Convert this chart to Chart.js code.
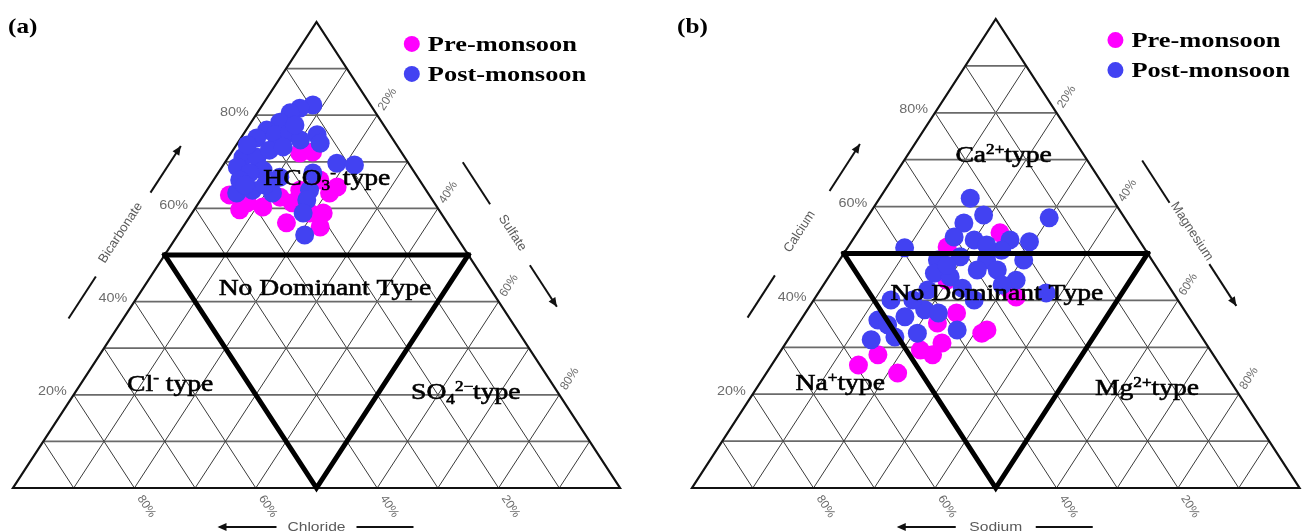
<!DOCTYPE html>
<html>
<head>
<meta charset="utf-8">
<script src="https://cdn.jsdelivr.net/npm/chart.js@4/dist/chart.umd.min.js"></script>
<style>
  html, body { margin: 0; padding: 0; background: #fff; }
  #wrap { position: relative; width: 1309px; height: 532px; overflow: hidden; }
  canvas { position: absolute; top: 0; }
  #chartA { left: 0; }
  #chartB { left: 654px; }
</style>
</head>
<body>
<div id="wrap">
  <canvas id="chartA" width="654" height="532"></canvas>
  <canvas id="chartB" width="655" height="532"></canvas>
</div>
<script>
// ---- Data -------------------------------------------------------------
const seasons = ['Pre-monsoon', 'Post-monsoon'];
const seasonColors = ['#ff00ff', '#4242f2'];
const tickPercents = [20, 40, 60, 80];

// Anion composition, % of total meq/L: [HCO3-, SO4 2-, Cl-]
const anionPre = [
  [71.9, 11.3, 16.8], [72.1, 13.3, 14.6], [62.9, 4.2, 32.9], [61.2, 8.0, 30.8],
  [60.3, 11.0, 28.7], [62.4, 12.8, 24.8], [61.2, 15.4, 23.4], [63.3, 20.5, 16.2],
  [64.6, 21.1, 14.3], [56.9, 16.6, 26.5], [56.0, 22.6, 21.4], [59.0, 21.6, 19.4],
  [59.0, 19.4, 21.6], [59.7, 7.5, 32.8], [66.1, 17.5, 16.4], [63.9, 15.3, 20.8]
];
const anionPost = [
  [82.2, 8.3, 9.5], [81.5, 6.5, 12.0], [80.5, 5.4, 14.1], [78.5, 4.7, 16.8],
  [75.8, 12.2, 12.0], [76.8, 3.4, 19.8], [75.1, 2.6, 22.3], [75.8, 5.3, 18.9],
  [76.2, 7.5, 16.3], [74.7, 10.0, 15.3], [74.0, 13.6, 12.4], [71.0, 2.4, 26.6],
  [68.9, 2.5, 28.6], [71.0, 4.7, 24.3], [72.5, 6.0, 21.5], [73.2, 7.9, 18.9],
  [68.2, 7.1, 24.7], [67.6, 5.2, 27.2], [63.3, 5.2, 31.5], [63.9, 7.5, 28.6],
  [63.3, 11.1, 25.6], [66.7, 10.6, 22.7], [69.7, 18.5, 11.8], [69.3, 21.6, 9.1],
  [67.6, 15.6, 16.8], [63.9, 16.9, 19.2], [61.8, 17.5, 20.7], [59.0, 18.3, 22.7],
  [54.3, 20.9, 24.8], [66.1, 4.3, 29.6], [73.6, 1.8, 24.6], [65.0, 9.0, 26.0],
  [77.9, 7.5, 14.6], [65.0, 5.7, 29.3]
];

// Cation composition, % of total meq/L: [Ca2+, Mg2+, Na+]
const cationPre = [
  [54.4, 23.5, 22.1], [42.2, 31.2, 26.6], [44.3, 19.8, 35.9], [37.3, 24.9, 37.8],
  [33.7, 31.7, 34.6], [35.2, 22.8, 42.0], [29.4, 22.9, 47.7], [26.2, 14.3, 59.5],
  [24.5, 21.6, 53.9], [28.4, 16.4, 55.2], [33.0, 31.2, 35.8], [30.9, 25.7, 43.4],
  [28.4, 25.4, 46.2], [40.7, 33.0, 26.3], [51.4, 16.3, 32.3]
];
const cationPost = [
  [61.8, 14.9, 23.3], [57.6, 30.0, 12.4], [51.2, 9.4, 39.4], [56.5, 16.5, 27.0],
  [58.2, 18.9, 22.9], [53.5, 16.4, 30.1], [52.9, 20.0, 27.1], [52.9, 25.9, 21.2],
  [52.5, 29.3, 18.2], [48.6, 16.1, 35.3], [49.3, 19.5, 31.2], [48.6, 24.2, 27.2],
  [48.6, 30.3, 21.1], [45.8, 17.0, 37.2], [45.0, 20.0, 35.0], [46.5, 23.7, 29.8],
  [46.5, 27.0, 26.5], [44.3, 31.2, 24.5], [40.1, 26.4, 33.5], [41.6, 37.5, 20.9],
  [40.1, 12.7, 47.2], [35.8, 12.7, 51.5], [36.5, 16.8, 46.7], [38.0, 19.3, 42.7],
  [31.6, 13.7, 54.7], [32.2, 17.3, 50.5], [33.0, 20.6, 46.4], [33.7, 26.8, 39.5],
  [37.3, 21.9, 40.8], [50.7, 25.6, 23.7], [42.6, 23.2, 34.2], [47.5, 18.2, 34.3],
  [43.3, 29.4, 27.3], [42.2, 17.7, 40.1], [40.1, 16.3, 43.6], [51.8, 22.6, 25.6],
  [34.8, 14.8, 50.4]
];

// ---- Ternary helpers --------------------------------------------------
// [top, right, left] percentages -> cartesian position inside the unit box
function toXY(t) {
  return { x: t[1] / 100 + t[0] / 200, y: t[0] / 100 };
}

const SERIF = '"Liberation Serif", "Times New Roman", serif';
const SANS = '"Liberation Sans", Arial, sans-serif';
const SX = 1.2; // horizontal text stretch used by the figure

function stretchedText(ctx, text, x, y, align, sx) {
  const w = ctx.measureText(text).width * sx;
  const left = align === 'center' ? x - w / 2 : align === 'right' ? x - w : x;
  ctx.save();
  ctx.translate(left, y);
  ctx.scale(sx, 1);
  ctx.textAlign = 'left';
  ctx.fillText(text, 0, 0);
  ctx.restore();
}

// parts: [text, level] with level 0 normal, -1 subscript, 1 superscript
function richText(ctx, parts, cx, cy, size) {
  const small = size * 0.62;
  const widths = parts.map(p => {
    ctx.font = `${p[1] ? small : size}px ${SERIF}`;
    return ctx.measureText(p[0]).width;
  });
  const total = widths.reduce((a, b) => a + b, 0) * SX;
  let x = cx - total / 2;
  const base = cy + size * 0.32;
  ctx.textBaseline = 'alphabetic';
  parts.forEach((p, i) => {
    ctx.font = `${p[1] ? small : size}px ${SERIF}`;
    const dy = p[1] === -1 ? size * 0.2 : p[1] === 1 ? -size * 0.36 : 0;
    ctx.save();
    ctx.translate(x, base + dy);
    ctx.scale(SX, 1);
    ctx.fillText(p[0], 0, 0);
    ctx.lineWidth = 0.6;
    ctx.strokeText(p[0], 0, 0);
    ctx.restore();
    x += widths[i] * SX;
  });
}

function makeTernaryPlugin(cfg) {
  const P = (chart, top, right) => [
    chart.scales.x.getPixelForValue(right + top / 2),
    chart.scales.y.getPixelForValue(top)
  ];
  const stroke = (ctx, pts, w, c) => {
    ctx.beginPath();
    ctx.moveTo(pts[0][0], pts[0][1]);
    for (let i = 1; i < pts.length; i++) ctx.lineTo(pts[i][0], pts[i][1]);
    ctx.lineWidth = w;
    ctx.strokeStyle = c;
    ctx.stroke();
  };
  const arrowHead = (ctx, tip, dir, len, half) => {
    ctx.beginPath();
    ctx.moveTo(tip[0], tip[1]);
    ctx.lineTo(tip[0] - dir[0] * len - dir[1] * half, tip[1] - dir[1] * len + dir[0] * half);
    ctx.lineTo(tip[0] - dir[0] * len + dir[1] * half, tip[1] - dir[1] * len - dir[0] * half);
    ctx.closePath();
    ctx.fill();
  };
  const unit = (a, b) => {
    const dx = b[0] - a[0], dy = b[1] - a[1], l = Math.hypot(dx, dy);
    return [dx / l, dy / l, l];
  };

  return {
    id: 'ternary',
    beforeDatasetsDraw(chart) {
      const ctx = chart.ctx;
      ctx.save();
      // grid every 10 %
      for (let k = 1; k < 10; k++) {
        const f = k / 10;
        stroke(ctx, [P(chart, 0, f), P(chart, 1 - f, f)], 1, '#3a3a3a');
        stroke(ctx, [P(chart, 0, 1 - f), P(chart, 1 - f, 0)], 1, '#3a3a3a');
        stroke(ctx, [P(chart, f, 0), P(chart, f, 1 - f)], 1.8, '#6a6a6a');
      }
      // outline
      const A = P(chart, 0, 0), B = P(chart, 0, 1), C = P(chart, 1, 0);
      ctx.lineJoin = 'miter';
      ctx.beginPath();
      ctx.moveTo(A[0], A[1]); ctx.lineTo(B[0], B[1]); ctx.lineTo(C[0], C[1]); ctx.closePath();
      ctx.lineWidth = 2.2; ctx.strokeStyle = '#111'; ctx.stroke();

      const dL = unit(A, C), dR = unit(C, B);
      const angL = Math.atan2(dL[1], dL[0]), angR = Math.atan2(dR[1], dR[0]);

      // tick labels
      ctx.fillStyle = '#6b6b6b';
      ctx.font = `12px ${SANS}`;
      ctx.textBaseline = 'middle';
      tickPercents.forEach(v => {
        const f = v / 100;
        const pl = P(chart, f, 0);
        stretchedText(ctx, v + '%', pl[0] - 7, pl[1] - 3, 'right', SX);

        const pr = P(chart, 1 - f, f);
        ctx.save();
        ctx.translate(pr[0] + dL[0] * 19, pr[1] + dL[1] * 19);
        ctx.rotate(angL);
        ctx.textAlign = 'center';
        ctx.fillText(v + '%', 0, 0);
        ctx.restore();

        const pb = P(chart, 0, 1 - f);
        ctx.save();
        ctx.translate(pb[0] + dR[0] * 22, pb[1] + dR[1] * 22);
        ctx.rotate(angR);
        ctx.textAlign = 'center';
        ctx.fillText(v + '%', 0, 0);
        ctx.restore();
      });

      // axis titles with direction arrows
      ctx.font = `13px ${SANS}`;
      ctx.fillStyle = '#5a5a5a';
      ctx.strokeStyle = '#111';
      const along = (S, E, t, off) => {
        const d = unit(S, E);
        return [S[0] + (E[0] - S[0]) * t + d[1] * off, S[1] + (E[1] - S[1]) * t - d[0] * off];
      };
      // left side (rising)
      stroke(ctx, [along(A, C, 0.31, 46), along(A, C, 0.40, 46)], 2, '#111');
      const lTip = along(A, C, 0.68, 46);
      stroke(ctx, [along(A, C, 0.58, 46), lTip], 2, '#111');
      ctx.fillStyle = '#111';
      arrowHead(ctx, lTip, dL, 9, 4);
      ctx.fillStyle = '#5a5a5a';
      const lt = along(A, C, 0.49, 49);
      ctx.save(); ctx.translate(lt[0], lt[1]); ctx.rotate(angL);
      ctx.textAlign = 'center'; ctx.fillText(cfg.axes.left, 0, 0); ctx.restore();
      // right side (falling)
      stroke(ctx, [along(C, B, 0.355, 46), along(C, B, 0.445, 46)], 2, '#111');
      const rTip = along(C, B, 0.665, 46);
      stroke(ctx, [along(C, B, 0.576, 46), rTip], 2, '#111');
      ctx.fillStyle = '#111';
      arrowHead(ctx, rTip, dR, 9, 4);
      ctx.fillStyle = '#5a5a5a';
      const rt = along(C, B, 0.51, 49);
      ctx.save(); ctx.translate(rt[0], rt[1]); ctx.rotate(angR);
      ctx.textAlign = 'center'; ctx.fillText(cfg.axes.right, 0, 0); ctx.restore();
      // bottom (leftwards)
      const mid = (A[0] + B[0]) / 2, by = A[1] + 39;
      stroke(ctx, [[mid - 97, by], [mid - 40, by]], 2, '#111');
      stroke(ctx, [[mid + 40, by], [mid + 97, by]], 2, '#111');
      ctx.fillStyle = '#111';
      arrowHead(ctx, [mid - 99, by], [-1, 0], 9, 4);
      ctx.fillStyle = '#5a5a5a';
      stretchedText(ctx, cfg.axes.bottom, mid, by, 'center', SX);
      ctx.restore();
    },
    afterDatasetsDraw(chart) {
      const ctx = chart.ctx;
      ctx.save();
      // classification boundaries
      ctx.lineJoin = 'miter';
      ctx.lineCap = 'square';
      stroke(ctx, [P(chart, 0.5, 0), P(chart, 0.5, 0.5)], 5, '#000');
      stroke(ctx, [P(chart, 0.5, 0), P(chart, 0, 0.5), P(chart, 0.5, 0.5)], 5, '#000');

      // facies labels
      ctx.fillStyle = '#000';
      ctx.strokeStyle = '#000';
      cfg.zones.forEach(z => {
        const x = chart.scales.x.getPixelForValue(z.at[0]);
        const y = chart.scales.y.getPixelForValue(z.at[1]);
        richText(ctx, z.parts, x, y, 23);
      });

      // legend
      const lx = chart.scales.x.getPixelForValue(cfg.legendAt[0]);
      const ly = chart.scales.y.getPixelForValue(cfg.legendAt[1]);
      ctx.font = `bold 22px ${SERIF}`;
      ctx.textBaseline = 'middle';
      seasons.forEach((s, i) => {
        const y = ly + i * 30;
        ctx.fillStyle = seasonColors[i];
        ctx.beginPath(); ctx.arc(lx, y, 8, 0, Math.PI * 2); ctx.fill();
        ctx.fillStyle = '#000';
        stretchedText(ctx, s, lx + 16, y + 1, 'left', SX);
      });

      // panel tag
      ctx.font = `bold 21px ${SERIF}`;
      ctx.textBaseline = 'middle';
      stretchedText(ctx, cfg.panel, cfg.panelAt[0], cfg.panelAt[1], 'left', SX);
      ctx.restore();
    }
  };
}

function buildChart(id, pre, post, cfg, pad) {
  return new Chart(document.getElementById(id), {
    type: 'scatter',
    data: {
      datasets: [
        { label: seasons[1], data: post.map(toXY), backgroundColor: seasonColors[1],
          pointRadius: 9.5, pointBorderWidth: 0, order: 0 },
        { label: seasons[0], data: pre.map(toXY), backgroundColor: seasonColors[0],
          pointRadius: 9.5, pointBorderWidth: 0, order: 1 }
      ]
    },
    options: {
      responsive: false,
      animation: false,
      events: [],
      layout: { padding: pad },
      plugins: { legend: { display: false }, tooltip: { enabled: false } },
      scales: {
        x: { type: 'linear', min: 0, max: 1, display: false },
        y: { type: 'linear', min: 0, max: 1, display: false }
      }
    },
    plugins: [makeTernaryPlugin(cfg)]
  });
}

buildChart('chartA', anionPre, anionPost, {
  panel: '(a)', panelAt: [8, 28],
  axes: { left: 'Bicarbonate', right: 'Sulfate', bottom: 'Chloride' },
  legendAt: [0.657, 0.953],
  zones: [
    { parts: [['HCO', 0], ['3', -1], ['-', 1], [' type', 0]], at: [0.517, 0.665] },
    { parts: [['No Dominant Type', 0]], at: [0.514, 0.429] },
    { parts: [['Cl', 0], ['-', 1], [' type', 0]], at: [0.259, 0.225] },
    { parts: [['SO', 0], ['4', -1], ['2\u2212', 1], ['type', 0]], at: [0.746, 0.206] }
  ]
}, { left: 13, right: 34, top: 22, bottom: 44 });

buildChart('chartB', cationPre, cationPost, {
  panel: '(b)', panelAt: [23, 28],
  axes: { left: 'Calcium', right: 'Magnesium', bottom: 'Sodium' },
  legendAt: [0.697, 0.955],
  zones: [
    { parts: [['Ca', 0], ['2+', 1], ['type', 0]], at: [0.513, 0.710] },
    { parts: [['No Dominant Type', 0]], at: [0.502, 0.416] },
    { parts: [['Na', 0], ['+', 1], ['type', 0]], at: [0.244, 0.224] },
    { parts: [['Mg', 0], ['2+', 1], ['type', 0]], at: [0.749, 0.213] }
  ]
}, { left: 38, right: 3, top: 19, bottom: 44 });
</script>
</body>
</html>
